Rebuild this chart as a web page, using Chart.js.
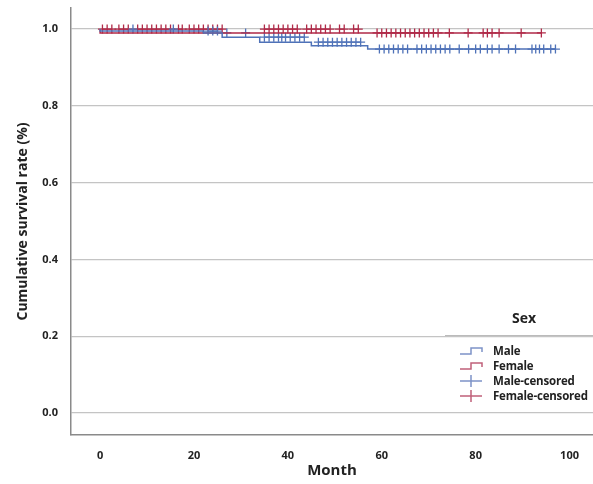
<!DOCTYPE html>
<html>
<head>
<meta charset="utf-8">
<script src="https://cdn.jsdelivr.net/npm/chart.js@4/dist/chart.umd.min.js"></script>
<style>
  body { margin: 0; background: #fff; }
  #wrap { position: relative; width: 593px; height: 484px; }
  #legend { position: absolute; left: 445px; top: 308px; width: 148px; font-family: "Open Sans", "Noto Sans", sans-serif; font-weight: bold; color: #222; }
  #legend .title { text-align: center; font-size: 14px; margin-left: 10px; height: 27px; }
  #legend .rule { border-top: 1px solid #bbb; margin-bottom: 7px; }
  #legend .item { display: flex; align-items: center; height: 15px; font-size: 11.5px; white-space: nowrap; letter-spacing: -0.2px; }
  #legend svg { margin-left: 14px; margin-right: 10px; flex: none; }
</style>
</head>
<body>
<div id="wrap">
  <canvas id="myChart" width="593" height="484"></canvas>
  <div id="legend">
    <div class="title">Sex</div>
    <div class="rule"></div>
    <div class="item"><svg width="24" height="12"><path d="M1 9 H12 V3 H23 V7" fill="none" stroke="#7d93c8" stroke-width="1.5"/></svg>Male</div>
    <div class="item"><svg width="24" height="12"><path d="M1 9 H12 V3 H23 V7" fill="none" stroke="#c0607a" stroke-width="1.5"/></svg>Female</div>
    <div class="item"><svg width="24" height="12"><path d="M1 6 H23 M12 0 V12" fill="none" stroke="#7d93c8" stroke-width="1.5"/></svg>Male-censored</div>
    <div class="item"><svg width="24" height="12"><path d="M1 6 H23 M12 0 V12" fill="none" stroke="#c0607a" stroke-width="1.5"/></svg>Female-censored</div>
  </div>
</div>
<script>
// Kaplan-Meier steps
const maleTimes = [0, 22, 26, 34, 45, 57, 58, 97];
const maleSurv = [1.0, 0.995, 0.99, 0.979, 0.966, 0.957, 0.948, 0.948];
const femaleTimes = [0, 57, 94];
const femaleSurv = [1.0, 0.99, 0.99];

// censored observations (months)
const maleCensored = [7, 15.6, 23, 24, 25, 27, 31, 35, 36, 37, 38, 38.7, 39.5, 40.5, 41.5, 42.5, 43.5,
  46.5, 47.5, 48.5, 49.5, 50.5, 51.5, 52.5, 53.5, 54.5, 55.5,
  59.5, 60.5, 61.5, 62.5, 63.5, 64.5, 65.5, 67.5, 68.5, 69.5, 70.5, 71.5, 72.5, 73.5, 74.5,
  76.5, 78.5, 80, 81, 82.5, 83.5, 85, 87, 88.5, 92, 92.8, 93.6, 94.5, 96, 97];
const femaleCensored = [0.5, 1.5, 2.5, 4, 5, 6, 8, 9, 10, 11, 12, 13, 14, 15, 16.7, 17.5,
  19, 20, 21, 22, 23, 24, 25, 26, 35, 36, 37, 38, 39, 40, 41, 42,
  44, 45, 46, 47, 48, 49, 51, 52, 54, 55,
  59, 60, 61, 62, 63, 64, 65, 66, 67, 68, 69, 70, 71, 72, 74.4, 78.4,
  81.6, 82.5, 83.5, 85, 89.7, 94];

const xTicks = [0, 20, 40, 60, 80, 100];
const yTicks = [0, 0.2, 0.4, 0.6, 0.8, 1.0];

const blue = '#4f72b8';
const red = '#b02a48';

function stepValue(times, surv, t) {
  let v = surv[0];
  for (let i = 0; i < times.length; i++) {
    if (times[i] <= t) v = surv[i];
  }
  return v;
}

const toPts = (xs, ys) => xs.map((x, i) => ({x: x, y: ys[i]}));
const censorPts = (ct, times, surv) => ct.map(t => ({x: t, y: stepValue(times, surv, t)}));

const ctx = document.getElementById('myChart').getContext('2d');
const tickFont = {family: '"Open Sans", "Noto Sans", sans-serif', size: 11, weight: 'bold'};

new Chart(ctx, {
  type: 'scatter',
  data: {
    datasets: [
      {
        label: 'Male', type: 'line', data: toPts(maleTimes, maleSurv),
        borderColor: blue, borderWidth: 1.5, stepped: 'after', pointRadius: 0, fill: false
      },
      {
        label: 'Female', type: 'line', data: toPts(femaleTimes, femaleSurv),
        borderColor: red, borderWidth: 1.5, stepped: 'after', pointRadius: 0, fill: false
      },
      {
        label: 'Male-censored', data: censorPts(maleCensored, maleTimes, maleSurv),
        pointStyle: 'cross', pointRadius: 4.5, borderColor: blue, borderWidth: 1.3
      },
      {
        label: 'Female-censored', data: censorPts(femaleCensored, femaleTimes, femaleSurv),
        pointStyle: 'cross', pointRadius: 4.5, borderColor: red, borderWidth: 1.3
      }
    ]
  },
  options: {
    responsive: false,
    animation: false,
    layout: { autoPadding: false, padding: { top: 8, right: 0, left: 0, bottom: 0 } },
    plugins: { legend: { display: false }, tooltip: { enabled: false } },
    scales: {
      x: {
        type: 'linear', min: -6.2, max: 105,
        afterBuildTicks: s => { s.ticks = xTicks.map(v => ({value: v})); },
        afterFit: s => { s.height = 49; s.paddingLeft = 0; s.paddingRight = 0; },
        grid: { display: false },
        border: { display: true, color: '#8a8a8a', width: 1.5 },
        ticks: { font: tickFont, color: '#222', padding: 6, maxRotation: 0 },
        title: { display: true, text: 'Month', color: '#222', padding: {top: 2},
          font: {family: '"Open Sans", "Noto Sans", sans-serif', size: 15, weight: 'bold'} }
      },
      y: {
        min: -0.057, max: 1.055,
        afterBuildTicks: s => { s.ticks = yTicks.map(v => ({value: v})); },
        afterFit: s => { s.width = 71; s.paddingTop = 0; s.paddingBottom = 0; },
        grid: { color: '#c4c4c4', lineWidth: 1.3, drawTicks: false },
        border: { display: true, color: '#8a8a8a', width: 1.5 },
        ticks: { font: tickFont, color: '#222', padding: 13, callback: v => v.toFixed(1) },
        title: { display: true, text: 'Cumulative survival rate (%)', color: '#222', padding: {top: 15, bottom: 0},
          font: {family: '"Open Sans", "Noto Sans", sans-serif', size: 14, weight: 'bold'} }
      }
    }
  }
});
</script>
</body>
</html>
